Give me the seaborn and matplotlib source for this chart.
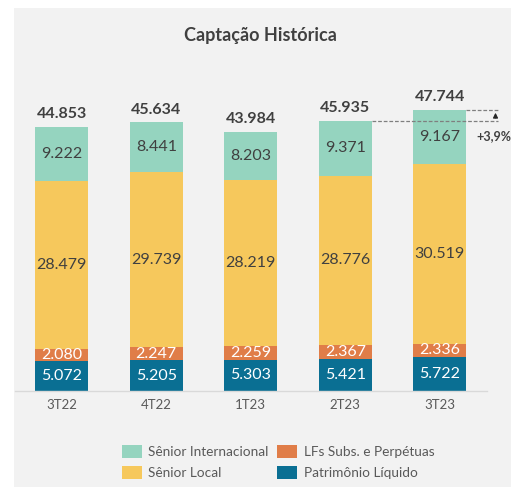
import matplotlib
matplotlib.use("Agg")
import matplotlib.pyplot as plt
import seaborn as sns
import pandas as pd
from matplotlib.patches import Rectangle

periods = ["3T22", "4T22", "1T23", "2T23", "3T23"]
patrimonio = [5.072, 5.205, 5.303, 5.421, 5.722]
lfs = [2.080, 2.247, 2.259, 2.367, 2.336]
senior_local = [28.479, 29.739, 28.219, 28.776, 30.519]
senior_intl = [9.222, 8.441, 8.203, 9.371, 9.167]
totals = [44.853, 45.634, 43.984, 45.935, 47.744]
growth_label = "+3,9%"

names = ["Patrimônio Líquido", "LFs Subs. e Perpétuas", "Sênior Local", "Sênior Internacional"]
colors = {"Sênior Internacional": "#95d4bf", "Sênior Local": "#f6c85c",
          "LFs Subs. e Perpétuas": "#e07d48", "Patrimônio Líquido": "#0a6f93"}
txtcol = {"Sênior Internacional": "#404040", "Sênior Local": "#404040",
          "LFs Subs. e Perpétuas": "#ffffff", "Patrimônio Líquido": "#ffffff"}
series = [patrimonio, lfs, senior_local, senior_intl]

sns.set_theme(style="white")
plt.rcParams["font.family"] = ["Lato", "DejaVu Sans"]

W, H = 511, 487
fig = plt.figure(figsize=(W / 100, H / 100), dpi=100, facecolor="white")
bg = Rectangle((14 / W, 0), 1 - 14 / W, 1 - 8 / H, transform=fig.transFigure,
               facecolor="#f2f2f2", edgecolor="none", zorder=-10)
fig.patches.append(bg)

base_px = 391
top_px = 60
scale = 5.886
ax = fig.add_axes([14.5 / W, (H - base_px) / H, (487 - 14.5) / W, (base_px - top_px) / H])
ax.set_facecolor("none")
ax.patch.set_alpha(0)

# cumulative stacks
cum = []
run = [0] * len(periods)
for s in series:
    run = [a + b for a, b in zip(run, s)]
    cum.append(run)

df_rows = []
for name, c in zip(names, cum):
    for p, v in zip(periods, c):
        df_rows.append({"period": p, "value": v, "serie": name})
df = pd.DataFrame(df_rows)

for name in reversed(names):
    sub = df[df.serie == name]
    sns.barplot(data=sub, x="period", y="value", color=colors[name], width=0.56,
                ax=ax, label=name, saturation=1, linewidth=0, order=periods)

handles, labels = ax.get_legend_handles_labels()
if ax.get_legend() is not None:
    ax.get_legend().remove()

ax.set_xlim(-0.5, 4.5)
ax.set_ylim(0, (base_px - top_px) / scale)

# segment labels
for i in range(len(periods)):
    bottom = 0
    for name, s in zip(names, series):
        v = s[i]
        ax.text(i, bottom + v / 2, f"{v:.3f}", ha="center", va="center",
                fontsize=11.5, color=txtcol[name])
        bottom += v
    ax.text(i, totals[i] + 1.0, f"{totals[i]:.3f}", ha="center", va="bottom",
            fontsize=11.5, fontweight="bold", color="#404040")

# growth annotation
ax.plot([3 + 0.28, 4.62], [totals[3], totals[3]], ls=(0, (3, 1.5)), color="#7f7f7f", lw=0.9, clip_on=False)
ax.plot([4 + 0.28, 4.62], [totals[4], totals[4]], ls=(0, (3, 1.5)), color="#7f7f7f", lw=0.9, clip_on=False)
ax.annotate("", xy=(4.59, totals[4]), xytext=(4.59, totals[3]),
            arrowprops=dict(arrowstyle="-|>", color="#262626", lw=0.9, mutation_scale=7),
            annotation_clip=False)
ax.text(4.39, totals[3] - 2.6, growth_label, ha="left", va="center", fontsize=9,
        fontweight="bold", color="#404040", clip_on=False)

sns.despine(ax=ax, left=True, top=True, right=True)
ax.spines["bottom"].set_color("#d9d9d9")
ax.spines["bottom"].set_linewidth(1)
ax.set_yticks([])
ax.set_xlabel("")
ax.set_ylabel("")
ax.tick_params(axis="x", length=0, labelsize=9.5, labelcolor="#595959", pad=6)

fig.text(260 / W, 1 - 35 / H, "Captação Histórica", ha="center", va="center",
         fontsize=13, fontweight="bold", color="#404040")

hmap = dict(zip(labels, handles))
order = ["Sênior Internacional", "Sênior Local", "LFs Subs. e Perpétuas", "Patrimônio Líquido"]
leg = fig.legend([hmap[o] for o in order], order, ncol=2, loc="center",
                 bbox_to_anchor=(278 / W, 1 - 462 / H), frameon=False, fontsize=9.8,
                 handlelength=1.5, handleheight=1.1, columnspacing=0.6, labelspacing=0.6,
                 handletextpad=0.45)
for t in leg.get_texts():
    t.set_color("#595959")

fig.savefig("out.png", dpi=100, facecolor="white")
